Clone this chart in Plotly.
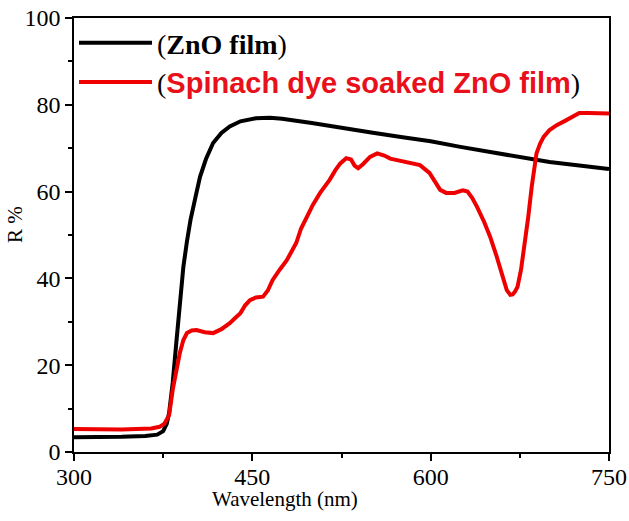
import plotly.graph_objects as go

# ZnO film
zno_wl = [300, 320, 340, 360, 370, 375, 378, 380, 383, 386, 389, 392, 395, 398, 402, 406, 411, 417, 424, 431, 440, 453, 465, 475, 500, 525, 550, 575, 600, 625, 650, 675, 700, 725, 750]
zno_r = [3.4, 3.4, 3.5, 3.7, 4.0, 4.8, 6.5, 9.0, 15.9, 25.0, 34.0, 42.7, 48.5, 53.5, 58.5, 63.4, 67.5, 71.2, 73.5, 75.0, 76.2, 76.9, 77.0, 76.8, 75.8, 74.6, 73.6, 72.6, 71.6, 70.3, 69.1, 68.0, 66.8, 66.0, 65.2]

# Spinach dye soaked ZnO film
dye_wl = [300, 340, 365, 372, 376, 380, 383, 386, 389, 392, 395, 399, 403, 410, 417, 424, 431, 436, 440, 444, 448, 453, 459, 463, 467, 473, 479, 483, 487, 491, 496, 501, 507, 515, 520, 524, 529, 533, 536, 539, 543, 549, 555, 561, 566, 571, 580, 591, 599, 603, 608, 613, 620, 627, 631, 635, 639, 645, 650, 655, 658, 661, 664, 667, 669, 671, 673, 676, 679, 682, 685, 687, 689, 692, 695, 700, 706, 713, 720, 725, 733, 742, 750]
dye_r = [5.3, 5.2, 5.4, 5.8, 6.5, 8.5, 14.3, 19.0, 22.8, 25.8, 27.4, 28.0, 28.1, 27.6, 27.4, 28.3, 29.7, 31.0, 32.0, 33.8, 35.0, 35.6, 35.8, 37.2, 39.6, 42.0, 44.2, 46.2, 48.2, 51.5, 54.2, 57.0, 59.7, 62.7, 65.0, 66.5, 67.7, 67.4, 66.0, 65.4, 66.3, 68.0, 68.8, 68.3, 67.6, 67.3, 66.9, 66.1, 64.3, 62.5, 60.4, 59.7, 59.7, 60.3, 60.0, 58.5, 56.5, 53.0, 49.6, 45.5, 42.7, 39.8, 37.3, 36.2, 36.3, 37.0, 38.0, 42.0, 47.3, 54.0, 61.1, 65.5, 68.8, 71.0, 72.6, 74.2, 75.3, 76.3, 77.3, 78.1, 78.1, 78.1, 78.0]

x_ticks = [300, 450, 600, 750]
y_ticks = [0, 20, 40, 60, 80, 100]
x_title = "Wavelength (nm)"
y_title = "R %"

serif = "Liberation Serif, Times New Roman, serif"

fig = go.Figure()
fig.add_trace(go.Scatter(
    x=zno_wl, y=zno_r, mode="lines",
    line=dict(color="black", width=4),
    name="(<b>ZnO film</b>)",
))
fig.add_trace(go.Scatter(
    x=dye_wl, y=dye_r, mode="lines",
    line=dict(color="#ee0000", width=4),
    name="(<span style='color:#e8101a;font-family:Liberation Sans, Arial, sans-serif;font-size:29px'><b>Spinach dye soaked ZnO film</b></span>)",
))

fig.update_layout(
    width=629, height=521,
    margin=dict(l=74, r=20, t=18, b=69),
    paper_bgcolor="white", plot_bgcolor="white",
    font=dict(family=serif, size=21, color="black"),
    showlegend=True,
    legend=dict(
        x=0.0, y=1.0, xanchor="left", yanchor="top",
        bgcolor="rgba(0,0,0,0)",
        font=dict(family=serif, size=28, color="black"),
        itemwidth=73, tracegroupgap=0,
    ),
    xaxis=dict(
        range=[300, 750], tickvals=x_ticks, ticktext=[str(v) for v in x_ticks],
        showgrid=False, zeroline=False, automargin=False,
        showline=True, linecolor="black", linewidth=1.5, mirror=True,
        ticks="outside", ticklen=7, tickwidth=1.5, tickcolor="black",
        minor=dict(tickvals=[375, 525, 675], ticks="outside", ticklen=4, tickwidth=1.5, tickcolor="black"),
        tickfont=dict(family=serif, size=24),
        ticklabeloverflow="allow", ticklabelstandoff=-5,
    ),
    yaxis=dict(
        range=[0, 100], tickvals=y_ticks, ticktext=[str(v) for v in y_ticks],
        showgrid=False, zeroline=False, automargin=False,
        showline=True, linecolor="black", linewidth=1.5, mirror=True,
        ticks="outside", ticklen=7, tickwidth=1.5, tickcolor="black",
        minor=dict(tickvals=[10, 30, 50, 70, 90], ticks="outside", ticklen=4, tickwidth=1.5, tickcolor="black"),
        tickfont=dict(family=serif, size=24),
        ticklabeloverflow="allow",
    ),
    annotations=[
        dict(
            text=x_title, xref="paper", yref="paper", x=0.394, y=0,
            xanchor="center", yanchor="middle", yshift=-47, showarrow=False,
            font=dict(family=serif, size=21, color="black"),
        ),
        dict(
            text=y_title, xref="paper", yref="paper", x=0, y=0.523,
            xanchor="center", yanchor="middle", xshift=-59, textangle=-90, showarrow=False,
            font=dict(family=serif, size=21, color="black"),
        ),
    ],
)

fig.write_html("out.html", config={"displayModeBar": False},
               post_script="document.body.style.margin='0px';")
